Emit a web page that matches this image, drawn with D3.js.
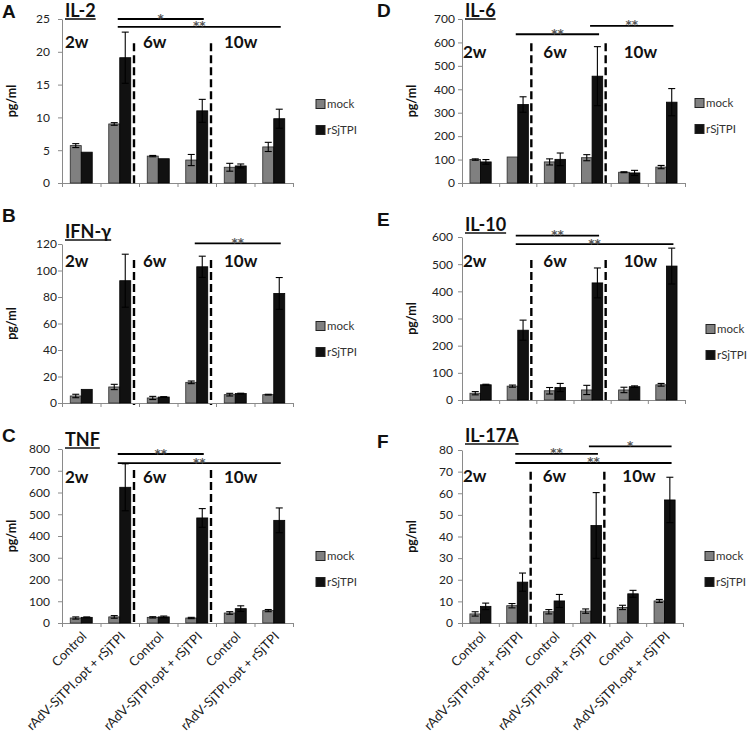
<!DOCTYPE html>
<html><head><meta charset="utf-8">
<script src="https://cdn.jsdelivr.net/npm/d3@7"></script>
<style>body{margin:0;background:#fff}svg{display:block}</style>
</head><body>
<svg id="c" width="750" height="740"></svg>
<script>
// ---------- data ----------
const categories = ["Control","rAdV-SjTPI.opt + rSjTPI","Control","rAdV-SjTPI.opt + rSjTPI","Control","rAdV-SjTPI.opt + rSjTPI"];
const weeks = ["2w","6w","10w"];
const series = ["mock","rSjTPI"];

const il2Mock = [5.7, 9.0, 4.1, 3.5, 2.4, 5.5];
const il2MockErr = [0.3, 0.2, 0.1, 0.85, 0.6, 0.7];
const il2Tpi = [4.7, 19.1, 3.7, 11.0, 2.6, 9.8];
const il2TpiErr = [0, 3.9, 0, 1.75, 0.3, 1.45];

const ifnMock = [5.3, 12.1, 3.8, 15.6, 6.3, 6.3];
const ifnMockErr = [1.3, 2.0, 1.2, 1.0, 1.0, 0.3];
const ifnTpi = [10.3, 92.3, 4.5, 102.8, 7.1, 82.7];
const ifnTpiErr = [0, 20, 0.3, 8, 0.3, 12];

const tnfMock = [23, 28, 26, 23, 46, 57];
const tnfMockErr = [5, 6, 3, 3, 6, 5];
const tnfTpi = [26, 624, 28, 483, 66, 472];
const tnfTpiErr = [2, 108, 4, 43, 13, 57];

const il6Mock = [100, 111, 90, 108, 46, 68];
const il6MockErr = [3, 0, 13, 13, 2, 7];
const il6Tpi = [90, 335, 101, 456, 43, 345];
const il6TpiErr = [10, 33, 27, 126, 11, 58];

const il10Mock = [25, 51, 34, 37, 37, 56];
const il10MockErr = [6, 4, 12, 17, 10, 5];
const il10Tpi = [56, 257, 46, 431, 49, 493];
const il10TpiErr = [2, 37, 15, 55, 3, 66];

const il17Mock = [4.2, 8.0, 5.2, 5.5, 7.2, 10.2];
const il17MockErr = [1, 1, 1, 1, 1, 0.7];
const il17Tpi = [7.7, 18.9, 10.2, 45.1, 13.5, 56.9];
const il17TpiErr = [1.5, 4.2, 3, 15.2, 1.6, 10.5];

const il2Ticks = [0,5,10,15,20,25];
const ifnTicks = [0,20,40,60,80,100,120];
const tnfTicks = [0,100,200,300,400,500,600,700,800];
const il6Ticks = [0,100,200,300,400,500,600,700];
const il10Ticks = [0,100,200,300,400,500,600];
const il17Ticks = [0,10,20,30,40,50,60,70,80];

// significance brackets: [fromCategory, toCategory, level (pg/ml), label]
const il2Sig = [[1,3,25.0,"*"],[1,5,23.8,"**"]];
const ifnSig = [[3,5,120.5,"**"]];
const tnfSig = [[1,3,777,"**"],[1,5,735,"**"]];
const il6Sig = [[1,3,635,"**"],[3,5,671,"**"]];
const il10Sig = [[1,3,605,"**"],[1,5,574,"**"]];
const il17Sig = [[3,5,81.7,"*"],[1,3,78.2,"**"],[1,5,74,"**"]];

// ---------- layout ----------
const panels = [
 {letter:"A", title:"IL-2", mock:il2Mock, mockErr:il2MockErr, tpi:il2Tpi, tpiErr:il2TpiErr, ticks:il2Ticks, sig:il2Sig,
  x0:62, x1:293, top:19, zero:183, tickPad:8, letterY:18, titleY:17, weekV:20.6, dashV:21.3, legX:316, legY:104, xlabels:false, side:"L"},
 {letter:"B", title:"IFN-γ", mock:ifnMock, mockErr:ifnMockErr, tpi:ifnTpi, tpiErr:ifnTpiErr, ticks:ifnTicks, sig:ifnSig,
  x0:62, x1:293, top:244, zero:403, tickPad:1, letterY:222, titleY:238, weekV:102.6, dashV:108, legX:316, legY:326, xlabels:false, side:"L"},
 {letter:"C", title:"TNF", mock:tnfMock, mockErr:tnfMockErr, tpi:tnfTpi, tpiErr:tnfTpiErr, ticks:tnfTicks, sig:tnfSig,
  x0:62, x1:293, top:449, zero:623, tickPad:8, letterY:442, titleY:446, weekV:645, dashV:703, legX:316, legY:556, xlabels:true, side:"L"},
 {letter:"D", title:"IL-6", mock:il6Mock, mockErr:il6MockErr, tpi:il6Tpi, tpiErr:il6TpiErr, ticks:il6Ticks, sig:il6Sig,
  x0:462, x1:685, top:19, zero:183, tickPad:3, letterY:17, titleY:17, weekV:533, dashV:597, legX:695, legY:103, xlabels:false, side:"R"},
 {letter:"E", title:"IL-10", mock:il10Mock, mockErr:il10MockErr, tpi:il10Tpi, tpiErr:il10TpiErr, ticks:il10Ticks, sig:il10Sig,
  x0:462, x1:685, top:237, zero:400, tickPad:5, letterY:226, titleY:231, weekV:490, dashV:515, legX:706, legY:329, xlabels:false, side:"R"},
 {letter:"F", title:"IL-17A", mock:il17Mock, mockErr:il17MockErr, tpi:il17Tpi, tpiErr:il17TpiErr, ticks:il17Ticks, sig:il17Sig,
  x0:462, x1:683, top:450, zero:623, tickPad:5, letterY:448, titleY:442, weekV:65, dashV:70, legX:705, legY:556, xlabels:true, side:"R"}
];

const colors = {mock:"#808080", rSjTPI:"#111111"};
const FONT = "Lato, 'Open Sans', sans-serif";
const svg = d3.select("#c");

panels.forEach(p => {
  const g = svg.append("g");
  const x = d3.scaleBand().domain(d3.range(categories.length)).range([p.x0, p.x1]).paddingInner(0).paddingOuter(0);
  const xs = d3.scaleBand().domain(series).range([0, x.bandwidth()]).paddingInner(0).paddingOuter(0.75);
  const xb = d3.scaleLinear().domain([0, categories.length]).range([p.x0, p.x1]);
  const y = d3.scaleLinear().domain([0, d3.max(p.ticks)]).range([p.zero, p.top]);

  // y axis
  const ya = g.append("g").attr("transform", `translate(${p.x0},0)`)
    .call(d3.axisLeft(y).tickValues(p.ticks).tickSize(4).tickSizeOuter(0).tickPadding(p.tickPad));
  ya.select(".domain").attr("stroke","#8a8a8a");
  ya.selectAll(".tick line").attr("stroke","#8a8a8a");
  ya.selectAll(".tick text").attr("font-family",FONT).attr("font-size",12).attr("fill","#222");

  // x axis (ticks at category boundaries)
  const xa = g.append("g").attr("transform", `translate(0,${p.zero})`)
    .call(d3.axisBottom(xb).tickValues(d3.range(categories.length+1)).tickFormat("").tickSize(4).tickSizeOuter(0));
  xa.select(".domain").attr("stroke","#8a8a8a");
  xa.selectAll(".tick line").attr("stroke","#8a8a8a");

  // bars
  const rows = categories.map((c,i) => ({i, vals:[
    {s:"mock", v:p.mock[i], e:p.mockErr[i]},
    {s:"rSjTPI", v:p.tpi[i], e:p.tpiErr[i]}]}));
  const cg = g.selectAll("g.cat").data(rows).join("g").attr("class","cat")
    .attr("transform", d => `translate(${x(d.i)},0)`);
  cg.selectAll("rect").data(d => d.vals).join("rect")
    .attr("x", d => xs(d.s)).attr("width", xs.bandwidth())
    .attr("y", d => y(d.v)).attr("height", d => y(0) - y(d.v))
    .attr("fill", d => colors[d.s]).attr("stroke", d => d.s === "mock" ? "#2a2a2a" : "#000").attr("stroke-width", 0.8);
  // error bars
  const eb = cg.selectAll("g.err").data(d => d.vals.filter(v => v.e > 0)).join("g").attr("class","err")
    .attr("stroke","#000").attr("stroke-width",1.1);
  eb.append("line").attr("x1", d => xs(d.s)+xs.bandwidth()/2).attr("x2", d => xs(d.s)+xs.bandwidth()/2)
    .attr("y1", d => y(d.v - d.e)).attr("y2", d => y(d.v + d.e));
  eb.append("line").attr("x1", d => xs(d.s)+xs.bandwidth()/2-3.5).attr("x2", d => xs(d.s)+xs.bandwidth()/2+3.5)
    .attr("y1", d => y(d.v + d.e)).attr("y2", d => y(d.v + d.e));
  eb.append("line").attr("x1", d => xs(d.s)+xs.bandwidth()/2-3.5).attr("x2", d => xs(d.s)+xs.bandwidth()/2+3.5)
    .attr("y1", d => y(d.v - d.e)).attr("y2", d => y(d.v - d.e));

  // dashed separators between weeks
  [2,4].forEach(b => {
    g.append("line").attr("x1", xb(b)-5).attr("x2", xb(b)-5)
      .attr("y1", y(p.dashV)).attr("y2", p.zero+2)
      .attr("stroke","#000").attr("stroke-width",2.4).attr("stroke-dasharray","8,4");
  });

  // week labels
  const wOff = p.side === "L" ? [3, 4, 8] : [1, 7, 13];
  weeks.forEach((w,k) => {
    g.append("text").text(w).attr("x", xb(k*2) + wOff[k]).attr("y", y(p.weekV))
      .attr("font-family",FONT).attr("font-weight","bold").attr("font-size",17).attr("fill","#111");
  });

  // significance brackets
  p.sig.forEach(s => {
    const xa1 = x(s[0]) + x.bandwidth()/2 - 2, xa2 = x(s[1]) + x.bandwidth()/2 + 7;
    const yy = y(s[2]);
    g.append("line").attr("x1", xa1).attr("x2", xa2).attr("y1", yy).attr("y2", yy)
      .attr("stroke","#000").attr("stroke-width",1.8);
    g.append("text").text(s[3]).attr("x",(xa1+xa2)/2).attr("y", yy+3.5).attr("text-anchor","middle")
      .attr("font-family","'DejaVu Sans', sans-serif").attr("font-weight","bold").attr("font-size",12).attr("fill","#555");
  });

  // title with underline
  const t = g.append("text").text(p.title).attr("x", p.x0+3).attr("y", p.titleY)
    .attr("font-family",FONT).attr("font-weight","bold").attr("font-size",18).attr("fill","#111");
  const tl = t.node().getComputedTextLength();
  g.append("line").attr("x1", p.x0+3).attr("x2", p.x0+3+tl).attr("y1", p.titleY+2).attr("y2", p.titleY+2)
    .attr("stroke","#111").attr("stroke-width",1.6);

  // panel letter
  g.append("text").text(p.letter).attr("x", p.side === "L" ? 2 : 377).attr("y", p.letterY)
    .attr("font-family","'Liberation Sans', Arial, sans-serif").attr("font-weight","bold").attr("font-size",19).attr("fill","#111");

  // y axis label
  g.append("text").text("pg/ml")
    .attr("transform", `translate(${p.x0-46},${(p.top+p.zero)/2}) rotate(-90)`)
    .attr("text-anchor","middle").attr("font-family",FONT).attr("font-weight","bold").attr("font-size",12.5).attr("fill","#111");

  // legend
  series.forEach((s,k) => {
    const ly = p.legY + k*26;
    g.append("rect").attr("x", p.legX).attr("y", ly-4.5).attr("width",9).attr("height",9)
      .attr("fill", colors[s]).attr("stroke","#222").attr("stroke-width",1);
    g.append("text").text(s).attr("x", p.legX+11).attr("y", ly).attr("dy","0.35em")
      .attr("font-family",FONT).attr("font-size",11.5).attr("fill","#333");
  });

  // category labels
  if (p.xlabels) {
    categories.forEach((c,i) => {
      g.append("text").text(c)
        .attr("transform", `translate(${x(i)+x.bandwidth()/2+3},${p.zero+11}) rotate(-45)`)
        .attr("text-anchor","end").attr("dy","0.35em")
        .attr("font-family",FONT).attr("font-size",13).attr("fill","#222");
    });
  }
});
</script>
</body></html>
